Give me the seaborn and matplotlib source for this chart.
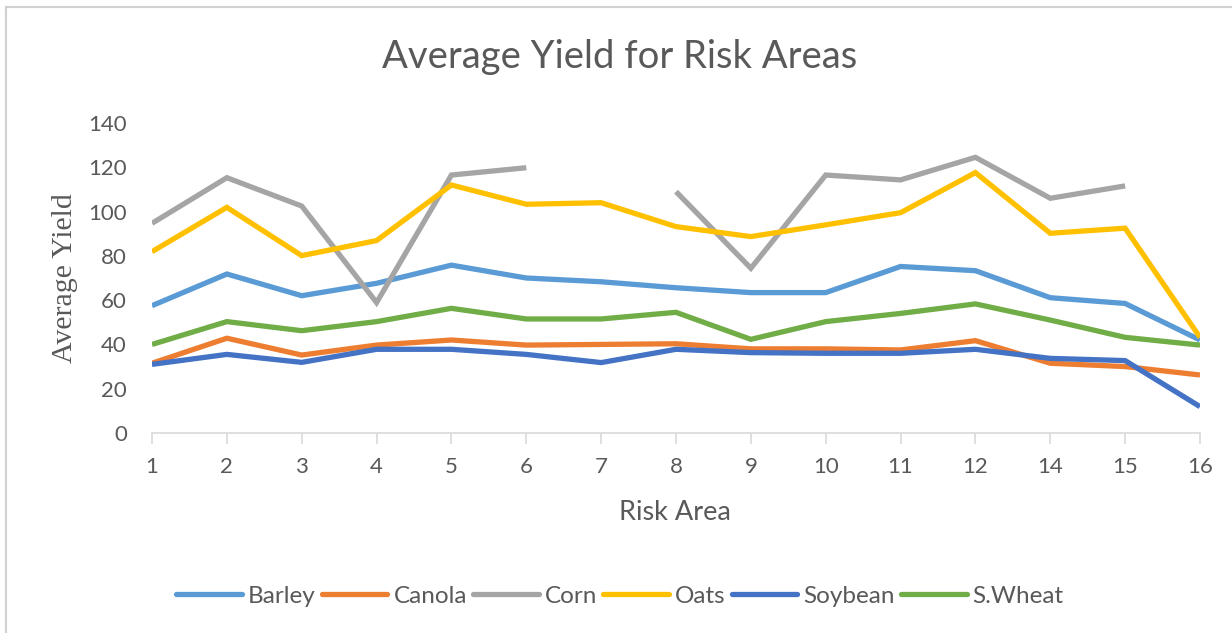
import numpy as np
import pandas as pd
import seaborn as sns
import matplotlib
matplotlib.use("Agg")
import matplotlib.pyplot as plt
from matplotlib.patches import Rectangle
from matplotlib.lines import Line2D

areas = ["1", "2", "3", "4", "5", "6", "7", "8", "9", "10", "11", "12", "14", "15", "16"]
barley = [57.5, 71.8, 62.0, 67.6, 75.8, 70.0, 68.3, 65.6, 63.4, 63.4, 75.2, 73.3, 61.1, 58.5, 42.0]
canola = [31.5, 42.8, 35.2, 39.7, 42.0, 39.7, 40.0, 40.3, 38.0, 38.0, 37.5, 41.7, 31.5, 30.0, 26.2]
corn = [94.7, 115.3, 102.5, 58.9, 116.5, 119.8, np.nan, 109.0, 74.4, 116.5, 114.3, 124.5, 106.0, 111.6, np.nan]
oats = [81.9, 101.9, 80.1, 86.9, 112.0, 103.3, 104.0, 93.2, 88.7, 94.0, 99.5, 117.6, 90.2, 92.5, 43.2]
soybean = [31.0, 35.5, 31.9, 37.8, 37.8, 35.5, 31.8, 37.8, 36.3, 36.0, 36.0, 37.8, 33.7, 32.7, 11.9]
swheat = [40.0, 50.3, 46.2, 50.3, 56.3, 51.5, 51.5, 54.5, 42.3, 50.3, 54.0, 58.3, 51.0, 43.2, 39.7]

series = {"Barley": barley, "Canola": canola, "Corn": corn, "Oats": oats,
          "Soybean": soybean, "S.Wheat": swheat}
colors = {"Barley": "#5B9BD5", "Canola": "#ED7D31", "Corn": "#A5A5A5",
          "Oats": "#FFC000", "Soybean": "#4472C4", "S.Wheat": "#70AD47"}

rows = []
for name, vals in series.items():
    seg = 0
    for i, v in enumerate(vals):
        if pd.isna(v):
            seg += 1
            continue
        rows.append({"pos": i, "value": v, "crop": name, "seg": f"{name}-{seg}"})
df = pd.DataFrame(rows)

sns.set_theme(style="white")
text_color = "#595959"
plt.rcParams["font.family"] = ["Lato", "DejaVu Sans"]

fig = plt.figure(figsize=(12.32, 6.33), dpi=100)
ax = fig.add_axes([152 / 1232, 1 - 433 / 633, (1200 - 152) / 1232, (433 - 123) / 633])

sns.lineplot(data=df, x="pos", y="value", hue="crop", units="seg", estimator=None,
             palette=colors, hue_order=list(series.keys()), linewidth=3.8,
             sort=False, ax=ax, legend=False)
for ln in ax.lines:
    ln.set_solid_joinstyle("miter")
    ln.set_solid_capstyle("butt")

ax.set_xlim(0, len(areas) - 1)
ax.set_ylim(0, 140)
ax.set_xticks(range(len(areas)))
ax.set_xticklabels(areas)
ax.set_yticks(range(0, 141, 20))
ax.tick_params(axis="x", colors="#D9D9D9", length=8, width=1.2, direction="out",
               labelcolor=text_color, labelsize=16, pad=9, bottom=True)
ax.tick_params(axis="y", length=0, labelcolor=text_color, labelsize=16, pad=18)
for s in ["top", "right", "left"]:
    ax.spines[s].set_visible(False)
ax.spines["bottom"].set_color("#D9D9D9")
ax.spines["bottom"].set_linewidth(1.2)
ax.set_xlabel("")
ax.set_ylabel("")

fig.text(675 / 1232, 1 - 513 / 633, "Risk Area", fontsize=19.5, color=text_color,
         ha="center", va="center")
fig.text(65 / 1232, 1 - 278 / 633, "Average Yield", fontsize=21.5, color=text_color,
         family=["Liberation Serif", "DejaVu Serif"], rotation=90,
         ha="center", va="center")
fig.text(620 / 1232, 1 - 57 / 633, "Average Yield for Risk Areas", fontsize=27.5,
         color=text_color, ha="center", va="center")

handles = [Line2D([0], [0], color=colors[n], lw=3.8) for n in series]
fig.legend(handles, list(series.keys()), loc="center", bbox_to_anchor=(620 / 1232, 1 - 596 / 633),
           ncol=6, frameon=False, fontsize=17.5, handlelength=2.7, columnspacing=0.25,
           handletextpad=0.25, labelcolor=text_color)

fig.patches.append(Rectangle((6 / 1232, -0.1), 1.2, 1 - 7 / 633 + 0.1,
                             transform=fig.transFigure, fill=False,
                             edgecolor="#D0D0D0", linewidth=1.5))

fig.savefig("out.png", dpi=100)
